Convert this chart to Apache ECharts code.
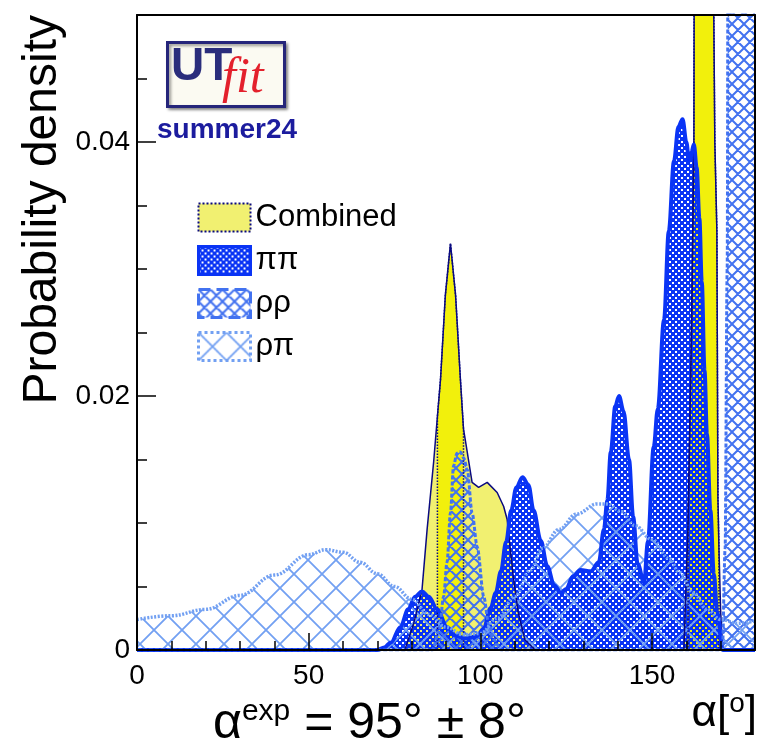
<!DOCTYPE html>
<html>
<head>
<meta charset="utf-8">
<script src="https://cdn.jsdelivr.net/npm/echarts@6/dist/echarts.min.js"></script>
<style>
  html, body { margin: 0; padding: 0; background: #fff; }
  #chart { width: 773px; height: 752px; }
</style>
</head>
<body>
<div id="chart"></div>
<script>
// alpha (deg) vs probability density
const combined = [
  [0, 0], [78, 0], [80.5, 0.002], [83, 0.0047], [84.5, 0.0095], [86.4, 0.0148], [87.5, 0.0184],
  [88.4, 0.0213], [89.8, 0.0279], [91.3, 0.032], [92.8, 0.0279], [94.2, 0.0213], [95.1, 0.0174],
  [95.7, 0.0164], [97.6, 0.0132], [99.5, 0.0128], [102, 0.0132], [104.9, 0.0124], [106.8, 0.0113],
  [107.8, 0.0103], [109.5, 0.006], [111, 0.003], [113, 0.0008], [116, 0], [159.3, 0],
  [160.5, 0.01], [161.5, 0.025], [162.2, 0.04], [162.4, 0.07], [167.9, 0.07], [168.0, 0.05],
  [168.3, 0.04], [168.9, 0.033], [169.2, 0.012], [169.5, 0.008], [170, 0.003], [170.6, 0], [180, 0]
];
const brightRanges = [[87.5, 95.1], [160.5, 169.5]];

const pipi = [
  [0, 0], [70, 0], [72, 0.0002], [74, 0.0006], [76.7, 0.0018], [79, 0.0032], [81, 0.0042], [83, 0.0046],
  [85, 0.0042], [87.4, 0.0032], [90.3, 0.0018], [93, 0.0011], [96, 0.0009], [99, 0.0011], [101, 0.0017],
  [103, 0.0033], [104.5, 0.0045], [106, 0.0062], [107.5, 0.0085], [109, 0.011], [110.5, 0.0128],
  [112.3, 0.0136], [114, 0.013], [115.5, 0.011], [117.6, 0.0086], [119.5, 0.0066], [121.5, 0.0051],
  [123.5, 0.0045], [125, 0.0048], [127, 0.0058], [129.2, 0.0063], [132.2, 0.0062], [134.5, 0.0069],
  [136, 0.0095], [137, 0.0118], [138, 0.0156], [139.3, 0.0192], [140.4, 0.02], [141.7, 0.0188],
  [143.3, 0.015], [144.5, 0.0105], [145.8, 0.0068], [147.7, 0.0053], [148.8, 0.0085], [150.5, 0.016],
  [151.7, 0.019], [153.5, 0.026], [154.9, 0.033], [156.4, 0.0385], [157.7, 0.0412], [158.9, 0.0418],
  [160, 0.04], [160.8, 0.0385], [161.5, 0.0392], [162.2, 0.0398], [163, 0.038], [163.8, 0.034],
  [164.5, 0.029], [165.3, 0.022], [166, 0.017], [167, 0.011], [168, 0.006], [169, 0.003], [170.6, 0], [180, 0]
];

const rhorho = [
  [0, 0], [86, 0], [88, 0.0015], [89.3, 0.0042], [90.3, 0.0069], [91.3, 0.0108], [92.2, 0.0145],
  [93.2, 0.0155], [94.2, 0.0156], [95.2, 0.0151], [96.2, 0.0142], [97.6, 0.0108], [99.1, 0.0081],
  [101, 0.0042], [102.4, 0.0021], [104, 0.0008], [106, 0], [170.5, 0], [171.3, 0.008], [171.9, 0.03],
  [172.3, 0.08], [180, 0.08]
];

const rhopi = [
  [0, 0.0024], [10, 0.0027], [20, 0.0032], [30, 0.0043], [40, 0.0059], [50, 0.0075], [55, 0.0079],
  [60, 0.0077], [65, 0.0069], [70, 0.006], [75, 0.005], [80, 0.004], [85, 0.0028], [90, 0.0018],
  [95, 0.0012], [100, 0.0013], [105, 0.0025], [110, 0.0042], [114.6, 0.0063], [118, 0.008],
  [123, 0.0095], [128, 0.0107], [134, 0.0115], [137, 0.0115], [141, 0.0109], [145, 0.0098],
  [150, 0.0087], [155, 0.0072], [158, 0.0061], [162, 0.0045], [166, 0.0032], [170, 0.0024],
  [175, 0.0021], [180, 0.0023]
];

const NAVY = "#0a0a80", PIPI = "#0a34f5", RHORHO = "#4272f0", RHOPI = "#72a0f2";
const PALE = "#f1f071", BRIGHT = "#f2f00c";

// hatch tiles
function hatch(size, color, width) {
  const c = document.createElement("canvas"); c.width = c.height = size;
  const g = c.getContext("2d"); g.strokeStyle = color; g.lineWidth = width;
  g.beginPath();
  for (const k of [-1, 0, 1]) {
    g.moveTo(k * size, 0); g.lineTo(k * size + size, size);
    g.moveTo(k * size, size); g.lineTo(k * size + size, 0);
  }
  g.stroke();
  return { image: c, repeat: "repeat" };
}
function dots(size, color, hole) {
  const c = document.createElement("canvas"); c.width = c.height = size;
  const g = c.getContext("2d"); g.fillStyle = color; g.fillRect(0, 0, size, size);
  g.clearRect(0, 0, hole, hole); g.clearRect(size / 2, size / 2, hole, hole);
  return { image: c, repeat: "repeat" };
}
const pipiFill = dots(6, PIPI, 2);
const rhorhoFill = hatch(12, RHORHO, 2);
const rhopiFill = hatch(28, RHOPI, 1.8);

function brightPart(a, b) {
  return [[a, 0], ...combined.filter(p => p[0] >= a && p[0] <= b), [b, 0]];
}

const chart = echarts.init(document.getElementById("chart"));
const tickFont = { color: "#000", fontSize: 28, fontFamily: "Liberation Sans" };
const frameAxis = {
  type: "value", z: 10,
  axisLine: { show: true, onZero: false, lineStyle: { color: "#000", width: 2 } },
  axisTick: { show: false }, axisLabel: { show: false }, splitLine: { show: false }
};

chart.setOption({
  animation: false,
  backgroundColor: "#fff",
  title: {
    text: "{a|α}{s|exp}{a| = 95° ± 8°}",
    left: 208, top: 692,
    textStyle: { fontWeight: "normal", rich: {
      a: { fontSize: 50, fontWeight: "normal", fontFamily: "Liberation Sans", color: "#000" },
      s: { fontSize: 30, fontWeight: "normal", fontFamily: "Liberation Sans", color: "#000", verticalAlign: "top", padding: [0, 0, 24, 0] }
    } }
  },
  legend: {
    orient: "vertical", left: 192, top: 197, itemWidth: 52, itemHeight: 28, itemGap: 12,
    icon: "rect", textStyle: { fontSize: 31, fontFamily: "Liberation Sans", color: "#000" },
    data: [
      { name: "Combined", itemStyle: { color: PALE, borderColor: NAVY, borderWidth: 2, borderType: "dotted" } },
      { name: "ππ", itemStyle: { color: pipiFill, borderColor: PIPI, borderWidth: 3 } },
      { name: "ρρ", itemStyle: { color: rhorhoFill, borderColor: RHORHO, borderWidth: 3, borderType: "dashed" } },
      { name: "ρπ", itemStyle: { color: rhopiFill, borderColor: RHOPI, borderWidth: 3, borderType: "dotted" } }
    ]
  },
  grid: { left: 137, right: 18, top: 15, bottom: 102 },
  xAxis: [{
    type: "value", min: 0, max: 180, interval: 50, z: 10,
    name: "{a|α[}{s|o}{a|]}", nameLocation: "end", nameGap: 2,
    nameTextStyle: { align: "right", verticalAlign: "top", padding: [40, 0, 0, 0], rich: {
      a: { fontSize: 44, fontFamily: "Liberation Sans", color: "#000" },
      s: { fontSize: 28, fontFamily: "Liberation Sans", color: "#000", verticalAlign: "top", padding: [0, 0, 20, 0] }
    } },
    axisLine: { lineStyle: { color: "#000", width: 2 } },
    axisTick: { inside: true, length: 17, lineStyle: { color: "#000", width: 1.5 } },
    minorTick: { show: true, splitNumber: 5, length: 9, lineStyle: { color: "#000", width: 1.5 } },
    axisLabel: { ...tickFont, margin: 12, showMaxLabel: false },
    splitLine: { show: false }
  }, { ...frameAxis, min: 0, max: 180, position: "top" }],
  yAxis: [{
    type: "value", min: 0, max: 0.05, interval: 0.02, z: 10,
    name: "Probability density", nameLocation: "end", nameRotate: 90, nameGap: 0,
    nameTextStyle: { fontSize: 48, fontFamily: "Liberation Sans", color: "#000",
      align: "right", verticalAlign: "bottom", padding: [0, 0, 70, 0] },
    axisLine: { show: true, lineStyle: { color: "#000", width: 2 } },
    axisTick: { inside: true, length: 19, lineStyle: { color: "#000", width: 1.5 } },
    minorTick: { show: true, splitNumber: 4, length: 10, lineStyle: { color: "#000", width: 1.5 } },
    axisLabel: { ...tickFont, margin: 7, showMaxLabel: false },
    splitLine: { show: false }
  }, { ...frameAxis, min: 0, max: 0.05, position: "right" }],
  graphic: [
    { type: "rect", left: 166, top: 41, shape: { width: 117, height: 64 }, z: 20,
      style: { fill: "#fbfaf2", stroke: "#25257a", lineWidth: 3,
        shadowBlur: 3, shadowOffsetX: 2, shadowOffsetY: 2, shadowColor: "rgba(0,0,0,0.4)" } },
    { type: "text", left: 171, top: 44, z: 21,
      style: { text: "UT", fontSize: 46, fontWeight: "bold", fontFamily: "Liberation Sans", fill: "#2a2d7c" } },
    { type: "text", left: 222, top: 54, z: 21,
      style: { text: "fit", fontSize: 50, fontStyle: "italic", fontFamily: "Liberation Serif", fill: "#e3202c" } },
    { type: "text", left: 157, top: 116, z: 21,
      style: { text: "summer24", fontSize: 28, fontWeight: "bold", fontFamily: "Liberation Sans", fill: "#1c1c9e" } }
  ],
  series: [
    { name: "Combined", type: "line", data: combined, symbol: "none", smooth: false,
      lineStyle: { color: NAVY, width: 1.5 }, itemStyle: { color: PALE }, areaStyle: { color: PALE, opacity: 1 } },
    ...brightRanges.map(([a, b]) => ({
      name: "Combined 68%", type: "line", data: brightPart(a, b), symbol: "none", smooth: false,
      lineStyle: { color: NAVY, width: 1.5, type: "dotted" }, areaStyle: { color: BRIGHT, opacity: 1 }
    })),
    { name: "ππ", type: "line", data: pipi, symbol: "none", smooth: 0.35, smoothMonotone: "x",
      lineStyle: { color: PIPI, width: 4 }, itemStyle: { color: PIPI }, areaStyle: { color: pipiFill, opacity: 1 } },
    { name: "ρρ", type: "line", data: rhorho, symbol: "none", smooth: 0.3, smoothMonotone: "x",
      lineStyle: { color: RHORHO, width: 3, type: [4, 2] }, itemStyle: { color: RHORHO }, areaStyle: { color: rhorhoFill, opacity: 1 } },
    { name: "ρπ", type: "line", data: rhopi, symbol: "none", smooth: 0.4, smoothMonotone: "x",
      lineStyle: { color: RHOPI, width: 3.5, type: [2, 1.5] }, itemStyle: { color: RHOPI }, areaStyle: { color: rhopiFill, opacity: 1 } }
  ]
});
</script>
</body>
</html>
